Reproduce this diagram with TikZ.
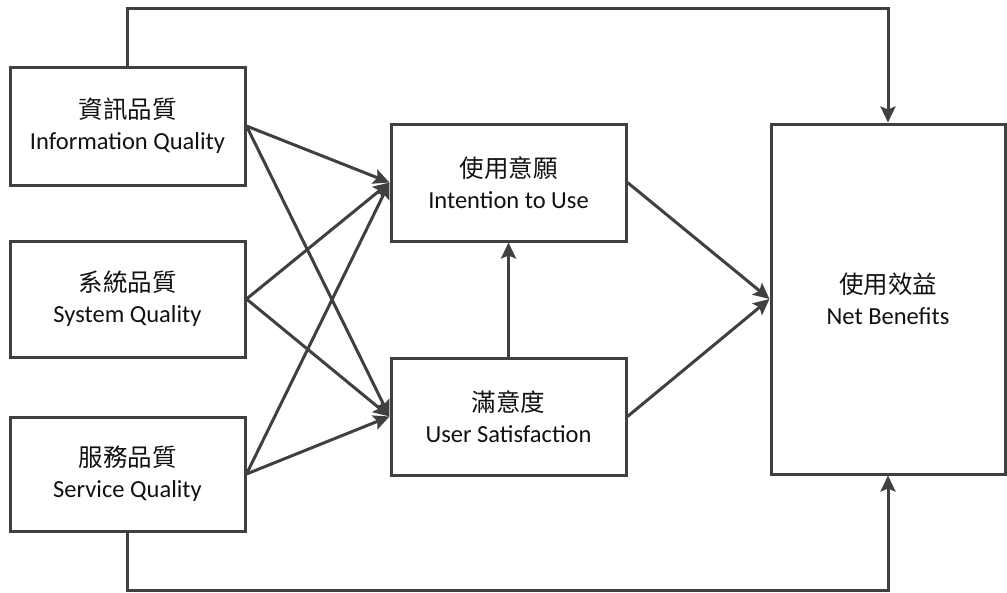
\documentclass[tikz,border=0pt]{standalone}
\usepackage{fontspec}
\setmainfont{Carlito}
\newfontfamily\cjk{Noto Sans CJK TC}
\usetikzlibrary{arrows.meta}
\definecolor{linegray}{HTML}{404040}
\definecolor{txt}{HTML}{111111}
\tikzset{
  box/.style={draw=linegray, line width=3pt, rectangle, align=center, text=txt,
    inner sep=0pt, font=\fontsize{24.5}{31}\selectfont},
  conn/.style={draw=linegray, line width=3pt, -{Stealth[length=16pt,width=15pt,inset=3pt]}},
  plainline/.style={draw=linegray, line width=3pt}
}
\newcommand{\cj}[1]{{\cjk\fontsize{24.5}{31}\selectfont #1}}
\begin{document}
\begin{tikzpicture}[x=1pt,y=-1pt]
\useasboundingbox (0,0) rectangle (1007,592);
\node[box, minimum width=235pt, minimum height=118pt] (info) at (127.5,126) {\cj{資訊品質}\\Information Quality};
\node[box, minimum width=235pt, minimum height=116pt] (sys) at (127.5,299) {\cj{系統品質}\\System Quality};
\node[box, minimum width=235pt, minimum height=114pt] (serv) at (127.5,474) {\cj{服務品質}\\Service Quality};
\node[box, minimum width=235pt, minimum height=117pt] (intent) at (508.5,182.5) {\cj{使用意願}\\Intention to Use};
\node[box, minimum width=235pt, minimum height=117pt] (sat) at (508.5,416.5) {\cj{滿意度}\\User Satisfaction};
\node[box, minimum width=234pt, minimum height=350pt] (net) at (888,299) {\cj{使用效益}\\Net Benefits};
\coordinate (tl) at (888,8);
\coordinate (bl) at (888,590);
\draw[conn] (info.east) -- (intent.west);
\draw[conn] (info.east) -- (sat.west);
\draw[conn] (sys.east) -- (intent.west);
\draw[conn] (sys.east) -- (sat.west);
\draw[conn] (serv.east) -- (intent.west);
\draw[conn] (serv.east) -- (sat.west);
\draw[conn] (sat.north) -- (intent.south);
\draw[conn] (intent.east) -- (net.west);
\draw[conn] (sat.east) -- (net.west);
\draw[conn] (info.north) |- (tl) -- (net.north);
\draw[conn] (serv.south) |- (bl) -- (net.south);
\end{tikzpicture}
\end{document}
